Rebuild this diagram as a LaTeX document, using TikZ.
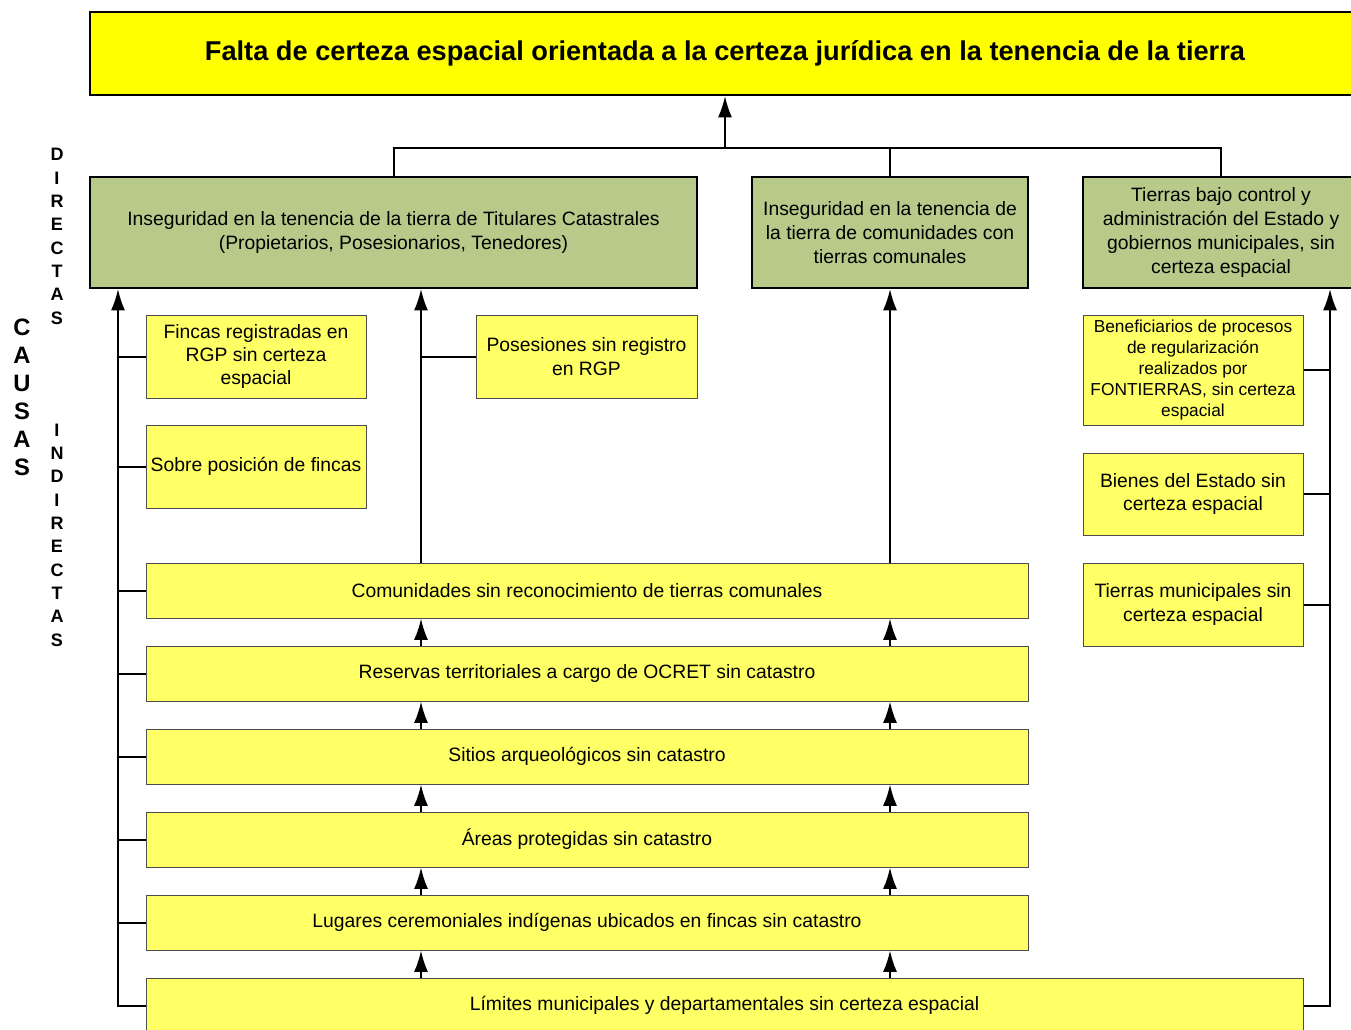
\documentclass[tikz,border=0pt]{standalone}
\usepackage{fontspec}
\setmainfont{Liberation Sans}
\usetikzlibrary{arrows.meta}
\definecolor{titleyellow}{RGB}{255,255,0}
\definecolor{causeyellow}{RGB}{255,255,102}
\definecolor{causegreen}{RGB}{183,202,138}

\begin{document}
\begin{tikzpicture}[x=0.75pt,y=-0.75pt,
  problem/.style={draw,line width=1.5pt,fill=titleyellow,font=\fontsize{20.4}{24}\selectfont\bfseries},
  direct/.style={draw,line width=1.5pt,fill=causegreen,align=center,font=\fontsize{14.5}{17.8}\selectfont},
  indirect/.style={draw=black!70,line width=0.75pt,fill=causeyellow,align=center,font=\fontsize{14.5}{17.6}\selectfont},
  link/.style={line width=1.5pt},
  arr/.style={link,-{Latex[length=16pt,width=10.5pt]}}]
  \useasboundingbox (0,0) rectangle (1351,1029);
  \node[problem,minimum width=952.5pt,minimum height=62.25pt] (problema) at (725,53.5) {Falta de certeza espacial orientada a la certeza jurídica en la tenencia de la tierra};
  \node[direct,minimum width=455.25pt,minimum height=83.25pt] (titulares) at (393.5,232.5) {Inseguridad en la tenencia de la tierra de Titulares Catastrales\\(Propietarios, Posesionarios, Tenedores)};
  \node[direct,minimum width=207pt,minimum height=83.25pt] (comunales) at (890,232.5) {Inseguridad en la tenencia de\\la tierra de comunidades con\\tierras comunales};
  \node[direct,minimum width=207pt,minimum height=83.25pt] (estado) at (1221,232.5) {Tierras bajo control y\\administración del Estado y\\gobiernos municipales, sin\\certeza espacial};
  \node[indirect,minimum width=165pt,minimum height=62.25pt] (fincas) at (256,356.5) {Fincas registradas en\\RGP sin certeza\\espacial};
  \node[indirect,minimum width=165pt,minimum height=62.25pt] (sobre) at (256,466.5) {Sobre posición de fincas};
  \node[indirect,minimum width=165.75pt,minimum height=62.25pt] (posesiones) at (586.5,356.5) {Posesiones sin registro\\en RGP};
  \node[indirect,minimum width=165pt,minimum height=82.5pt,font=\fontsize{13}{15.75}\selectfont] (benef) at (1193,370) {Beneficiarios de procesos\\de regularización\\realizados por\\FONTIERRAS, sin certeza\\espacial};
  \node[indirect,minimum width=165pt,minimum height=61.5pt] (bienes) at (1193,494) {Bienes del Estado sin\\certeza espacial};
  \node[indirect,minimum width=165pt,minimum height=62.25pt] (tmunic) at (1193,604.5) {Tierras municipales sin\\certeza espacial};
  \node[indirect,minimum width=661.5pt,minimum height=41.25pt] (comunidades) at (587,590.5) {Comunidades sin reconocimiento de tierras comunales};
  \node[indirect,minimum width=661.5pt,minimum height=41.25pt] (reservas) at (587,673.5) {Reservas territoriales a cargo de OCRET sin catastro};
  \node[indirect,minimum width=661.5pt,minimum height=41.25pt] (sitios) at (587,756.5) {Sitios arqueológicos sin catastro};
  \node[indirect,minimum width=661.5pt,minimum height=41.25pt] (areas) at (587,839.5) {Áreas protegidas sin catastro};
  \node[indirect,minimum width=661.5pt,minimum height=41.25pt] (lugares) at (587,922.5) {Lugares ceremoniales indígenas ubicados en fincas sin catastro};
  \node[indirect,minimum width=867.75pt,minimum height=41.25pt] (limites) at (724.5,1005.5) {Límites municipales y departamentales sin certeza espacial};
  % side labels
  \node[align=center,font=\fontsize{17.8}{21}\selectfont\bfseries] (causas) at (22,397) {C\\A\\U\\S\\A\\S};
  \node[align=center,font=\fontsize{13.5}{17.5}\selectfont\bfseries] (directas) at (57,236.5) {D\\I\\R\\E\\C\\T\\A\\S};
  \node[align=center,font=\fontsize{13.5}{17.5}\selectfont\bfseries] (indirectas) at (57,535) {I\\N\\D\\I\\R\\E\\C\\T\\A\\S};
  % direct causes to the problem
  \coordinate (bus) at (725,148);
  \draw[link] (titulares.north) |- (bus) -| (estado.north);
  \draw[link] (comunales.north) -- (comunales.north |- bus);
  \draw[arr] (bus) -- (problema.south);
  % left column
  \coordinate (lbus) at (118,0);
  \draw[arr] (limites.west) -| (titulares.south -| lbus);
  \foreach \n in {fincas,sobre,comunidades,reservas,sitios,areas,lugares}
    \draw[link] (\n.west) -- (\n.west -| lbus);
  % middle columns
  \coordinate (ca) at (421,0);
  \coordinate (cb) at (890,0);
  \draw[arr] (comunidades.north -| ca) -- (titulares.south -| ca);
  \draw[arr] (comunidades.north -| cb) -- (comunales.south -| cb);
  \draw[link] (posesiones.west) -- (posesiones.west -| ca);
  \foreach \lo/\up in {reservas/comunidades,sitios/reservas,areas/sitios,lugares/areas,limites/lugares} {
    \draw[arr] (\lo.north -| ca) -- (\up.south -| ca);
    \draw[arr] (\lo.north -| cb) -- (\up.south -| cb);
  }
  % right column
  \coordinate (rbus) at (1330,0);
  \draw[arr] (limites.east) -| (estado.south -| rbus);
  \foreach \n in {benef,bienes,tmunic}
    \draw[link] (\n.east) -- (\n.east -| rbus);
\end{tikzpicture}
\end{document}
